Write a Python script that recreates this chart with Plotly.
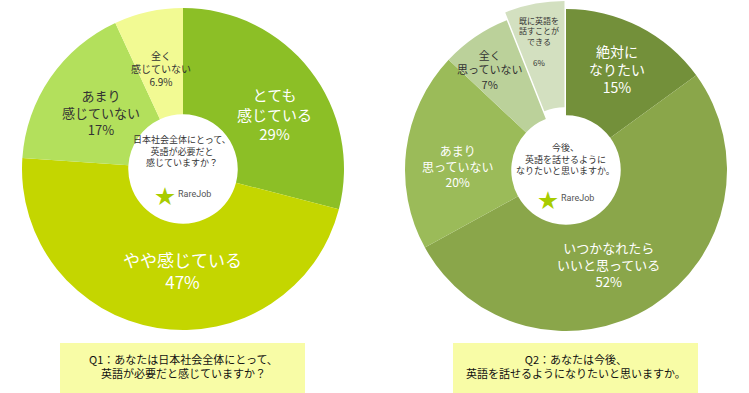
import math
import plotly.graph_objects as go

W, H = 749, 393
FONT = "Noto Sans CJK JP"

# ---- data ----
q1_labels = ["とても感じている", "やや感じている", "あまり感じていない", "全く感じていない"]
q1_values = [29, 47, 17, 6.9]
q1_text = ["とても<br>感じている<br>29%", "やや感じている<br>47%",
           "あまり<br>感じていない<br>17%", "全く<br>感じていない<br>6.9%"]
q1_center = "日本社会全体にとって、<br>英語が必要だと<br>感じていますか？"
q1_title = "Q1：あなたは日本社会全体にとって、<br>英語が必要だと感じていますか？"

q2_labels = ["絶対になりたい", "いつかなれたらいいと思っている", "あまり思っていない",
             "全く思っていない", "既に英語を話すことができる"]
q2_values = [15, 52, 20, 7, 6]
q2_text = ["絶対に<br>なりたい<br>15%", "いつかなれたら<br>いいと思っている<br>52%",
           "あまり<br>思っていない<br>20%", "全く<br>思っていない<br>7%",
           "既に英語を<br>話すことが<br>できる<br><br>6%"]
q2_center = "今後、<br>英語を話せるように<br>なりたいと思いますか。"
q2_title = "Q2：あなたは今後、<br>英語を話せるようになりたいと思いますか。"

# ---- styles ----
q1_colors = ["#8CBF26", "#C4D600", "#B3E05C", "#F2FA93"]
q1_txtcol = ["white", "white", "#333333", "#333333"]
q1_size = [15, 17, 13, 10]
q1_rad = [107, 102, 99, 103]
q1_off = [7, -9, 0, 0]

q2_colors = ["#73903A", "#8AA64A", "#9BBB59", "#BBD19A", "#D3E0C0"]
q2_txtcol = ["white", "white", "white", "#333333", "#333333"]
q2_size = [14, 13, 12, 11, 8]
q2_rad = [113, 104, 109, 126, 131]
q2_off = [0, 8, -5, -3, -1]
q2_pull = [0, 0, 0, 0, 0.05]

C1 = (183, 169, 161)   # center x, y, radius (px)
C2 = (566, 170, 161)

fig = go.Figure()
fig.add_trace(go.Pie(
    labels=q1_labels, values=q1_values, sort=False, direction="clockwise",
    hole=0.34, textinfo="none", hoverinfo="label+percent",
    marker=dict(colors=q1_colors, line=dict(width=0)),
    domain=dict(x=[(C1[0]-C1[2])/W, (C1[0]+C1[2])/W],
                y=[1-(C1[1]+C1[2])/H, 1-(C1[1]-C1[2])/H]),
    showlegend=False))
R2 = C2[2]*(1+max(q2_pull))
fig.add_trace(go.Pie(
    labels=q2_labels, values=q2_values, sort=False, direction="clockwise",
    hole=0.34, textinfo="none", hoverinfo="label+percent", pull=q2_pull,
    marker=dict(colors=q2_colors, line=dict(width=0)),
    domain=dict(x=[(C2[0]-R2)/W, (C2[0]+R2)/W],
                y=[1-(C2[1]+R2)/H, 1-(C2[1]-R2)/H]),
    showlegend=False))

ann = []
def slice_labels(center, values, texts, rads, offs, cols, sizes):
    cx, cy, _ = center
    tot = sum(values)
    cum = 0
    for v, t, r, o, c, s in zip(values, texts, rads, offs, cols, sizes):
        a = math.radians((cum + v/2)/tot*360 + o)
        cum += v
        ann.append(dict(x=(cx + r*math.sin(a))/W, y=1-(cy - r*math.cos(a))/H,
                        xref="paper", yref="paper", text=t, showarrow=False,
                        font=dict(family=FONT, size=s, color=c),
                        xanchor="center", yanchor="middle"))

slice_labels(C1, q1_values, q1_text, q1_rad, q1_off, q1_txtcol, q1_size)
slice_labels(C2, q2_values, q2_text, q2_rad, q2_off, q2_txtcol, q2_size)

def center_block(cx, ty, text, logo_y):
    ann.append(dict(x=cx/W, y=1-ty/H, xref="paper", yref="paper", text=text,
                    showarrow=False, font=dict(family=FONT, size=9, color="#333333"),
                    xanchor="center", yanchor="middle"))
    ann.append(dict(x=(cx-17)/W, y=1-logo_y/H, xref="paper", yref="paper", text="★",
                    showarrow=False, font=dict(family=FONT, size=20, color="#A8CC00"),
                    xanchor="center", yanchor="middle"))
    ann.append(dict(x=(cx+12)/W, y=1-(logo_y-1)/H, xref="paper", yref="paper",
                    text="RareJob", showarrow=False,
                    font=dict(family="Roboto", size=9, color="#555555"),
                    xanchor="center", yanchor="middle"))

center_block(182, 151, q1_center, 195)
center_block(565, 159, q2_center, 199)

shapes = []
for (x0, x1, cx, t) in [(60, 305, 183, q1_title), (453, 698, 575.5, q2_title)]:
    shapes.append(dict(type="rect", xref="paper", yref="paper",
                       x0=x0/W, x1=x1/W, y0=0, y1=1-343/H,
                       fillcolor="#F8FCA6", line=dict(width=0), layer="below"))
    ann.append(dict(x=cx/W, y=1-366/H, xref="paper", yref="paper", text=t,
                    showarrow=False, font=dict(family=FONT, size=11, color="#111111"),
                    xanchor="center", yanchor="middle"))

fig.update_layout(width=W, height=H, margin=dict(l=0, r=0, t=0, b=0),
                  paper_bgcolor="white", plot_bgcolor="white",
                  annotations=ann, shapes=shapes)
fig.write_html("out.html", config={"displayModeBar": False},
               post_script="document.body.style.margin='0px';document.body.style.padding='0px';")
